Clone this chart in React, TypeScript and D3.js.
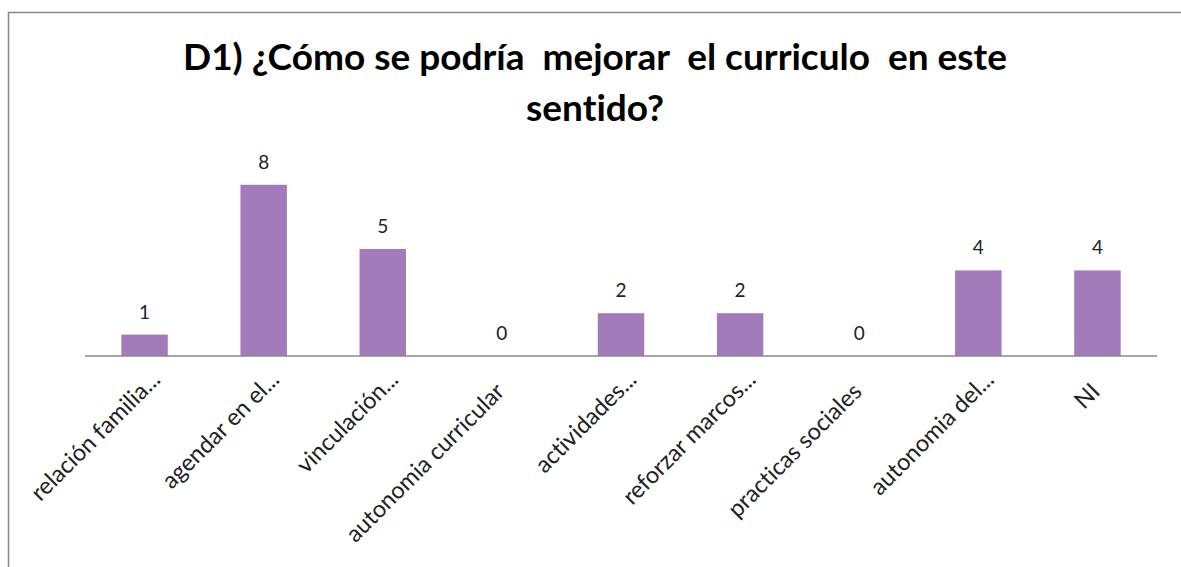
import React from "react";
import * as d3 from "d3";

const categories = [
  "relación familia...",
  "agendar en el...",
  "vinculación...",
  "autonomia curricular",
  "actividades...",
  "reforzar marcos...",
  "practicas sociales",
  "autonomia del...",
  "NI",
];
const values = [1, 8, 5, 0, 2, 2, 0, 4, 4];
const titleLines = ["D1) ¿Cómo se podría  mejorar  el curriculo  en este", "sentido?"];
const yDomainMax = 10;

const W = 1181;
const H = 567;
const FONT = "Lato, 'Open Sans', sans-serif";

export default function App() {
  const axisY = 356;
  const x = d3
    .scaleBand<string>()
    .domain(categories)
    .range([85, 1157])
    .paddingInner(0.61)
    .paddingOuter(0.305);
  const y = d3.scaleLinear().domain([0, yDomainMax]).range([axisY, axisY - 214]);

  return (
    <svg
      width={W}
      height={H}
      style={{ position: "absolute", left: 0, top: 0, background: "#fff", fontVariantLigatures: "none" }}
      fontFamily={FONT}
    >
      <rect x={8.5} y={12.5} width={W + 10} height={H + 10} fill="#fff" stroke="#888" strokeWidth={1.5} />
      <text textAnchor="middle" fontWeight="bold" fontSize={37} fill="#000">
        {titleLines.map((t, i) => (
          <tspan key={i} x={595} y={70 + i * 51} style={{ whiteSpace: "pre" }}>
            {t}
          </tspan>
        ))}
      </text>
      {categories.map((c, i) => (
        <rect
          key={c}
          x={x(c)}
          y={y(values[i])}
          width={x.bandwidth()}
          height={axisY - y(values[i])}
          fill="#A27BBA"
        />
      ))}
      <line x1={85} x2={1157} y1={axisY} y2={axisY} stroke="#888" strokeWidth={1.5} />
      {categories.map((c, i) => (
        <text
          key={"v" + c}
          x={(x(c) as number) + x.bandwidth() / 2}
          y={y(values[i]) - 16}
          textAnchor="middle"
          fontSize={19}
          fill="#222"
        >
          {values[i]}
        </text>
      ))}
      {categories.map((c) => {
        const cx = (x(c) as number) + x.bandwidth() / 2;
        const trunc = c.endsWith("...");
        const dx = trunc ? 17 : 4;
        const dy = trunc ? 25 : 37;
        return (
          <text
            key={"l" + c}
            transform={`translate(${cx + dx},${axisY + dy}) rotate(-45)`}
            textAnchor="end"
            fontSize={23.5}
            fill="#222"
          >
            {c}
          </text>
        );
      })}
    </svg>
  );
}
